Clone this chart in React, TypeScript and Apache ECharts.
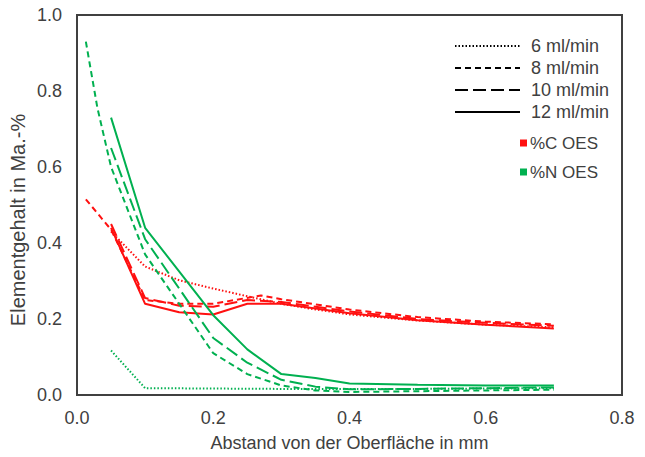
import React, { useEffect, useRef } from "react";
import * as echarts from "echarts";

const xTicks = [0, 0.2, 0.4, 0.6, 0.8];
const yTicks = [0, 0.2, 0.4, 0.6, 0.8, 1.0];

const flowLabels = ["6 ml/min", "8 ml/min", "10 ml/min", "12 ml/min"];
const elementLabels = ["%C OES", "%N OES"];

// %C OES (red)
const c6: [number, number][] = [[0.05, 0.43], [0.1, 0.338], [0.15, 0.302], [0.2, 0.28], [0.25, 0.26], [0.3, 0.24], [0.35, 0.225], [0.4, 0.212], [0.5, 0.196], [0.6, 0.185], [0.7, 0.178]];
const c8: [number, number][] = [[0.013, 0.515], [0.05, 0.435], [0.1, 0.25], [0.15, 0.24], [0.2, 0.24], [0.27, 0.262], [0.3, 0.252], [0.4, 0.225], [0.5, 0.205], [0.6, 0.193], [0.7, 0.186]];
const c10: [number, number][] = [[0.05, 0.45], [0.1, 0.255], [0.15, 0.235], [0.2, 0.232], [0.25, 0.25], [0.3, 0.245], [0.4, 0.22], [0.5, 0.2], [0.6, 0.19], [0.7, 0.182]];
const c12: [number, number][] = [[0.05, 0.44], [0.1, 0.24], [0.15, 0.218], [0.2, 0.212], [0.25, 0.24], [0.3, 0.24], [0.4, 0.215], [0.5, 0.197], [0.6, 0.185], [0.7, 0.175]];

// %N OES (green)
const n6: [number, number][] = [[0.05, 0.117], [0.1, 0.018], [0.2, 0.017], [0.3, 0.016], [0.4, 0.016], [0.5, 0.016], [0.6, 0.017], [0.7, 0.018]];
const n8: [number, number][] = [[0.013, 0.93], [0.03, 0.755], [0.05, 0.6], [0.1, 0.37], [0.2, 0.11], [0.25, 0.055], [0.3, 0.025], [0.35, 0.012], [0.4, 0.008], [0.5, 0.01], [0.6, 0.012], [0.7, 0.014]];
const n10: [number, number][] = [[0.05, 0.65], [0.1, 0.41], [0.2, 0.15], [0.25, 0.085], [0.3, 0.04], [0.35, 0.022], [0.4, 0.015], [0.5, 0.016], [0.6, 0.018], [0.7, 0.02]];
const n12: [number, number][] = [[0.05, 0.73], [0.1, 0.44], [0.2, 0.21], [0.25, 0.12], [0.3, 0.055], [0.35, 0.045], [0.4, 0.03], [0.5, 0.027], [0.6, 0.025], [0.7, 0.025]];

const RED = "#FF1010";
const GREEN = "#00B050";
const FONT = "Liberation Sans, Arial, sans-serif";
const TEXT = "#404040";

const dashTypes: any[] = [[1.5, 2], [6, 4], [13, 5], "solid"];

export default function App() {
  const ref = useRef<HTMLDivElement>(null);
  useEffect(() => {
    if (!ref.current) return;
    const chart = echarts.init(ref.current, undefined, { renderer: "svg" });
    const cSets = [c6, c8, c10, c12];
    const nSets = [n6, n8, n10, n12];
    const series: any[] = [];
    cSets.forEach((d, i) => {
      series.push({
        type: "line", name: elementLabels[0] + " " + flowLabels[i], data: d,
        showSymbol: false, symbol: "none",
        lineStyle: { color: RED, width: 2, type: dashTypes[i] },
      });
    });
    nSets.forEach((d, i) => {
      series.push({
        type: "line", name: elementLabels[1] + " " + flowLabels[i], data: d,
        showSymbol: false, symbol: "none",
        lineStyle: { color: GREEN, width: 2, type: dashTypes[i] },
      });
    });

    const legendGraphics: any[] = [];
    const rowY = [46, 68, 90, 112];
    flowLabels.forEach((lab, i) => {
      legendGraphics.push({
        type: "line",
        shape: { x1: 455, y1: rowY[i], x2: 520, y2: rowY[i] },
        style: { stroke: "#000", lineWidth: 2, lineDash: dashTypes[i] === "solid" ? null : dashTypes[i] },
      });
      legendGraphics.push({
        type: "text", x: 531, y: rowY[i],
        style: { text: lab, font: `18px ${FONT}`, fill: TEXT, verticalAlign: "middle", align: "left" },
      });
    });
    const elemY = [143, 172];
    const elemColors = [RED, GREEN];
    elementLabels.forEach((lab, i) => {
      legendGraphics.push({
        type: "rect", shape: { x: 520, y: elemY[i] - 3.5, width: 7, height: 7 },
        style: { fill: elemColors[i] },
      });
      legendGraphics.push({
        type: "text", x: 530, y: elemY[i],
        style: { text: lab, font: `17px ${FONT}`, fill: TEXT, verticalAlign: "middle", align: "left" },
      });
    });
    legendGraphics.push({
      type: "text", x: 18, y: 220, rotation: Math.PI / 2,
      style: { text: "Elementgehalt in Ma.-%", font: `20px ${FONT}`, fill: TEXT, align: "center", verticalAlign: "middle" },
    });

    chart.setOption({
      animation: false,
      backgroundColor: "#fff",
      grid: { left: 77, top: 15, width: 545, height: 381, show: true, borderColor: "#404040", borderWidth: 2, backgroundColor: "transparent" },
      xAxis: {
        type: "value", min: xTicks[0], max: xTicks[xTicks.length - 1], interval: 0.2,
        axisLine: { show: true, lineStyle: { color: "#404040", width: 2 } },
        axisTick: { show: false }, splitLine: { show: false },
        axisLabel: { fontSize: 18, fontFamily: FONT, color: TEXT, margin: 14, formatter: (v: number) => v.toFixed(1) },
        name: "Abstand von der Oberfläche in mm", nameLocation: "middle", nameGap: 39,
        nameTextStyle: { fontSize: 18, fontFamily: FONT, color: TEXT },
      },
      yAxis: {
        type: "value", min: yTicks[0], max: yTicks[yTicks.length - 1], interval: 0.2,
        axisLine: { show: true, lineStyle: { color: "#404040", width: 2 } },
        axisTick: { show: false }, splitLine: { show: false },
        axisLabel: { fontSize: 18, fontFamily: FONT, color: TEXT, margin: 15, formatter: (v: number) => v.toFixed(1) },
      },
      series,
      graphic: legendGraphics,
    });
    return () => chart.dispose();
  }, []);
  return <div ref={ref} style={{ position: "fixed", left: 0, top: 0, width: 645, height: 457 }} />;
}
